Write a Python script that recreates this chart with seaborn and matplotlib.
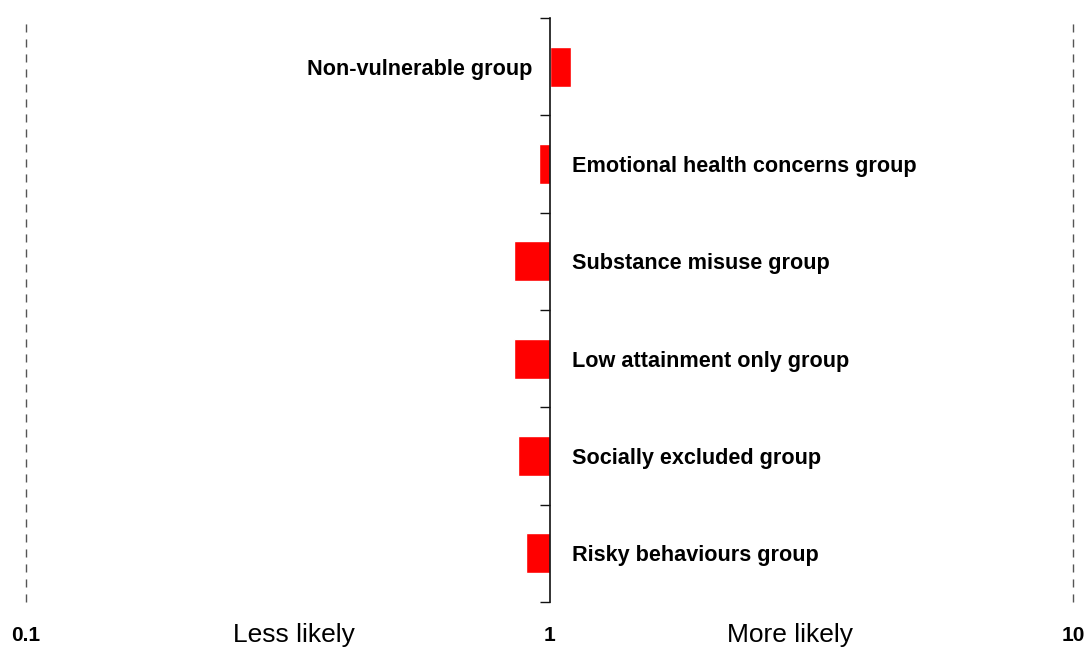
import numpy as np
import pandas as pd
import matplotlib
matplotlib.use("Agg")
import matplotlib.pyplot as plt
import seaborn as sns

# groups and odds ratios
groups = ["Non-vulnerable group", "Emotional health concerns group",
          "Substance misuse group", "Low attainment only group",
          "Socially excluded group", "Risky behaviours group"]
odds = [1.10, 0.954, 0.855, 0.855, 0.870, 0.901]
label_side = ["left", "right", "right", "right", "right", "right"]
tick_vals = [0.1, 1, 10]
tick_text = ["0.1", "1", "10"]

df = pd.DataFrame({"group": groups, "odds": odds})
df["log_odds"] = np.log10(df["odds"])

sns.set_style("white")
plt.rcParams["font.family"] = ["Liberation Sans Narrow", "Liberation Sans", "DejaVu Sans"]
plt.rcParams["text.color"] = "black"

fig = plt.figure(figsize=(10.88, 6.47), dpi=100)
ax = fig.add_axes([26 / 1088, 45 / 647, (1073 - 26) / 1088, (602 - 18) / 647])

sns.barplot(data=df, x="log_odds", y="group", orient="h", color="#ff0000",
            width=0.41, saturation=1, ax=ax)

ax.set_xlim(np.log10(tick_vals[0]), np.log10(tick_vals[-1]))
ax.set_ylim(len(groups) - 0.5, -0.5)

# centre line at 1 with ticks between groups
for s in ["top", "right", "bottom"]:
    ax.spines[s].set_visible(False)
ax.spines["left"].set_position(("data", 0))
ax.spines["left"].set_color("#111111")
ax.spines["left"].set_linewidth(1.2)
ax.set_yticks(np.arange(-0.5, len(groups), 1.0))
ax.set_yticklabels([])
ax.tick_params(axis="y", left=True, direction="out", length=7, width=1, color="#111111")
ax.set_xticks([])
ax.set_xlabel("")
ax.set_ylabel("")

# dashed reference lines at 0.1 and 10
for v in [tick_vals[0], tick_vals[-1]]:
    ax.axvline(np.log10(v), color="#555555", linewidth=1,
               linestyle=(0, (5.8, 5)), clip_on=False)

# group labels next to the centre line
for i, (g, side) in enumerate(zip(groups, label_side)):
    if side == "right":
        ax.annotate(g, xy=(0, i), xytext=(16, 0), textcoords="offset points",
                    ha="left", va="center_baseline", fontsize=15.6, fontweight="bold")
    else:
        ax.annotate(g, xy=(0, i), xytext=(-12, 0), textcoords="offset points",
                    ha="right", va="center_baseline", fontsize=15.6, fontweight="bold")

# bottom scale labels
trans = ax.get_xaxis_transform()
for v, t in zip(tick_vals, tick_text):
    ax.text(np.log10(v), -0.057, t, transform=trans, ha="center", va="center",
            fontsize=15, fontweight="bold", family=["Liberation Sans", "DejaVu Sans"])
ax.text(-0.4875, -0.057, "Less likely", transform=trans, ha="center", va="center",
        fontsize=19, family=["Liberation Sans", "DejaVu Sans"])
ax.text(0.46, -0.057, "More likely", transform=trans, ha="center", va="center",
        fontsize=19, family=["Liberation Sans", "DejaVu Sans"])

fig.savefig("out.png", dpi=100)
